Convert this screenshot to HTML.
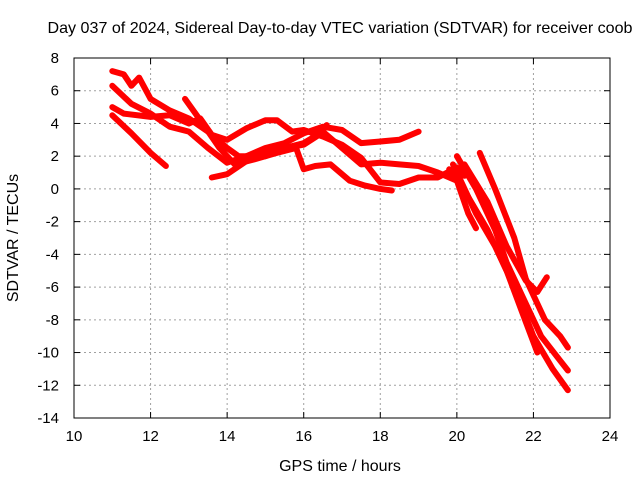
<!DOCTYPE html>
<html><head><meta charset="utf-8"><style>
body{margin:0;background:#fff;}
svg text{font-family:"Liberation Sans",sans-serif;font-size:15px;fill:#000;}
</style></head><body>
<svg id="chart" width="640" height="480" xmlns="http://www.w3.org/2000/svg">
<rect width="640" height="480" fill="#fff"/>
<g id="grid"></g><g id="axes"></g><g id="series"></g>
<text x="340" y="33" text-anchor="middle" style="font-size:16px" textLength="585" lengthAdjust="spacingAndGlyphs">Day 037 of 2024, Sidereal Day-to-day VTEC variation (SDTVAR) for receiver coob</text>
<text x="340" y="471" text-anchor="middle" style="font-size:16px">GPS time / hours</text>
<text transform="translate(18,238) rotate(-90)" text-anchor="middle" style="font-size:16px">SDTVAR / TECUs</text>
</svg>
<script>
const xTicks=[10,12,14,16,18,20,22,24];
const yTicks=[8,6,4,2,0,-2,-4,-6,-8,-10,-12,-14];
const sA_h=[11,11.3,11.5,11.7,12,12.5,13,13.5,14,14.3,15,15.5,16,16.5,17,17.5,18,18.5,19,19.5,20,20.3,20.5];
const sA_v=[7.2,7,6.3,6.8,5.5,4.8,4.3,3.5,2.5,2,2,2.5,2.8,3.5,2.5,1.5,1.6,1.5,1.4,1.0,0.5,-1.5,-2.4];
const sB_h=[11,11.5,12,12.5,13,13.5,14,14.5,15,15.5,16,16.5,17,17.5,18,18.5,19];
const sB_v=[6.3,5.2,4.6,3.8,3.5,2.5,1.6,2,2.5,2.8,3.4,3.8,3.6,2.8,2.9,3.0,3.5];
const sC_h=[11,11.3,12,12.5,13,13.3,13.6,14,14.5,15,15.3,15.7,16,16.5,17,17.5,18,18.5,19,19.5,20,20.2];
const sC_v=[5,4.6,4.4,4.5,4,4.3,3.3,3,3.7,4.2,4.2,3.5,3.6,3.2,2.7,1.9,0.4,0.3,0.7,0.7,1.3,0.8];
const sD_h=[11,11.5,12,12.4];
const sD_v=[4.5,3.4,2.2,1.4];
const sE_h=[12.9,13.3,13.8,14.2,14.7,15.3,15.8,16,16.3,16.7,17.2,17.6,18,18.3];
const sE_v=[5.5,4.2,2.5,1.5,1.8,2.2,2.5,1.2,1.4,1.5,0.5,0.2,0,-0.1];
const sF_h=[13.6,14,14.5,15,15.5,16,16.4,16.6];
const sF_v=[0.7,0.9,1.7,2.2,2.5,2.7,3.3,3.9];
const sH_h=[19.9,20.1,20.5,21,21.5,22,22.5,22.9];
const sH_v=[1.5,0.5,-1.5,-3.5,-6,-9,-11,-12.3];
const sI_h=[20,20.5,21,21.3,21.7,22.2,22.7,22.9];
const sI_v=[2,0,-2.5,-4.5,-6.5,-9,-10.5,-11.1];
const sJ_h=[20.6,21,21.5,21.8,22.3,22.7,22.9];
const sJ_v=[2.2,0,-3,-5.5,-8,-9,-9.7];
const sK_h=[19.8,20.3,20.8,21.3,21.7,22.1];
const sK_v=[1.2,-0.5,-2.5,-5,-7.5,-10];
const sL_h=[20.2,20.8,21.3,21.8,22.1,22.35];
const sL_v=[1.5,-0.8,-3.5,-5.6,-6.3,-5.4];
const seriesList=[[sA_h,sA_v],[sB_h,sB_v],[sC_h,sC_v],[sD_h,sD_v],[sE_h,sE_v],[sF_h,sF_v],[sH_h,sH_v],[sI_h,sI_v],[sJ_h,sJ_v],[sK_h,sK_v],[sL_h,sL_v]];
const X0=74,X1=610,Y0=58,Y1=418;
const xs=h=>X0+(h-10)/14*(X1-X0);
const ys=v=>Y0+(8-v)/22*(Y1-Y0);
const NS="http://www.w3.org/2000/svg";
function mk(t,a,p){const e=document.createElementNS(NS,t);for(const k in a)e.setAttribute(k,a[k]);p.appendChild(e);return e;}
const grid=document.getElementById('grid'),axes=document.getElementById('axes'),ser=document.getElementById('series');
xTicks.forEach(t=>{const x=xs(t);
 if(t>10&&t<24){const l=mk('line',{x1:x,x2:x,y1:Y0,y2:Y1,stroke:'#a0a0a0','stroke-dasharray':'2,3'},grid);}
 mk('line',{x1:x,x2:x,y1:Y1,y2:Y1-6,stroke:'#000'},axes);mk('line',{x1:x,x2:x,y1:Y0,y2:Y0+6,stroke:'#000'},axes);
 const tx=mk('text',{x:x,y:Y1+23,'text-anchor':'middle'},axes);tx.textContent=t;
 });
yTicks.forEach(t=>{const y=ys(t);
 if(t<8&&t>-14){const l=mk('line',{x1:X0,x2:X1,y1:y,y2:y,stroke:'#a0a0a0','stroke-dasharray':'2,3'},grid);}
 mk('line',{x1:X0,x2:X0+6,y1:y,y2:y,stroke:'#000'},axes);mk('line',{x1:X1,x2:X1-6,y1:y,y2:y,stroke:'#000'},axes);
 const tx=mk('text',{x:X0-15,y:y+5,'text-anchor':'end'},axes);tx.textContent=t;
 });
const fr=mk('rect',{x:X0,y:Y0,width:X1-X0,height:Y1-Y0,fill:'none',stroke:'#000'},axes);

seriesList.forEach(([h,v])=>{const d=h.map((hh,i)=>(i?'L':'M')+xs(hh).toFixed(1)+' '+ys(v[i]).toFixed(1)).join(' ');
 const p=mk('path',{d:d,fill:'none',stroke:'#ff0000','stroke-width':6,'stroke-linejoin':'round','stroke-linecap':'round'},ser);
 });
</script>
</body></html>
